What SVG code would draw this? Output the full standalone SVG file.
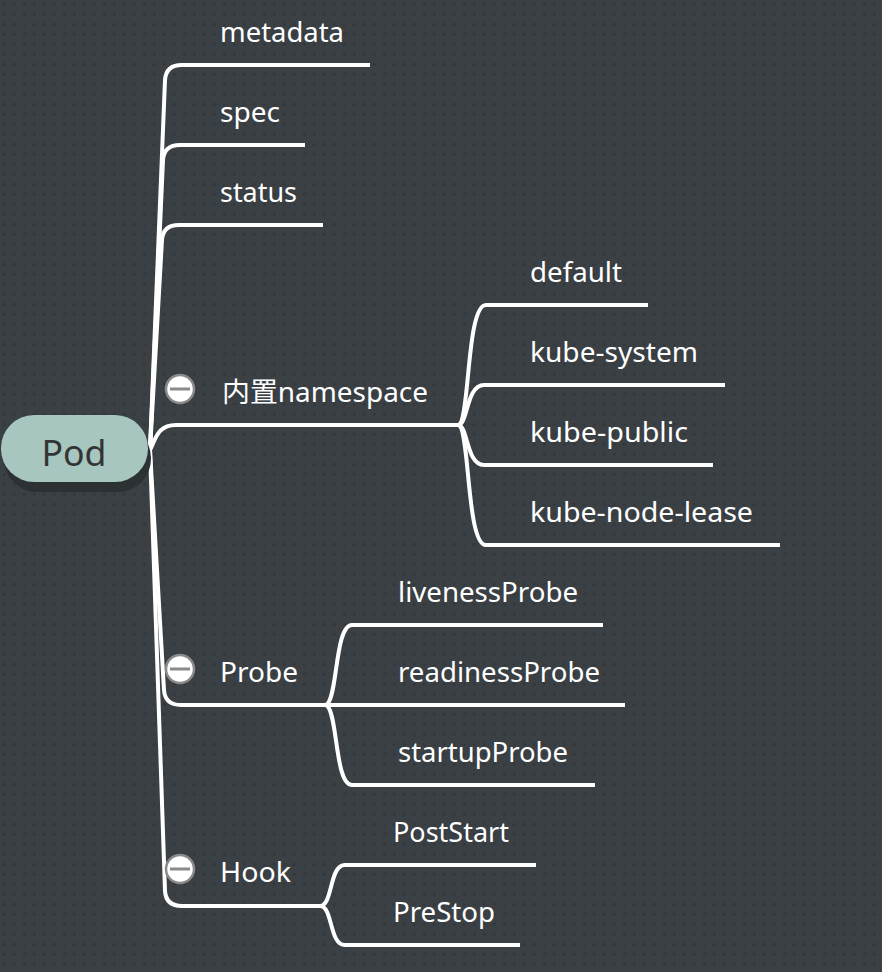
<svg xmlns="http://www.w3.org/2000/svg" width="882" height="972" viewBox="0 0 882 972">
<defs>
<pattern id="dots" x="3" y="3" width="10" height="10" patternUnits="userSpaceOnUse">
<rect x="0" y="0" width="2.5" height="2.5" fill="#30363a"/>
</pattern>
<style>
.bg{fill:#3a4044}
.ln{fill:none;stroke:#ffffff;stroke-width:4;stroke-linecap:butt;stroke-linejoin:round}
.t{font-family:"Noto Sans","Open Sans","Liberation Sans","Noto Sans CJK SC",sans-serif;font-size:27px;fill:#ffffff}
.cn{font-family:"Noto Sans CJK SC","Noto Sans",sans-serif}
.root{font-family:"Noto Sans","Open Sans","Liberation Sans",sans-serif;font-size:37px;fill:#343434}
.ic{fill:#ffffff;stroke:#8a8a8a;stroke-width:2.5}
.icl{stroke:#8a8a8a;stroke-width:3}
</style>
</defs>
<rect class="bg" x="0" y="0" width="882" height="972"/>
<rect x="0" y="0" width="882" height="972" fill="url(#dots)"/>

<g id="connectors">
<path class="ln" d="M150,450 L165,80 Q166,65 182,65 L370,65"/>
<path class="ln" d="M150,450 L163,160 Q164,145 180,145 L305,145"/>
<path class="ln" d="M150,450 L162,240 Q163,225 179,225 L323,225"/>
<path class="ln" d="M150,450 C156,438 158,425 176,425 L458,425"/>
<path class="ln" d="M150,450 L164,690 Q165,705 181,705 L325,705"/>
<path class="ln" d="M150,450 L165,891 Q166,906 182,906 L320,906"/>
<path class="ln" d="M458,425 C470,425 466,305 486,305 L648,305"/>
<path class="ln" d="M458,425 C468,425 466,385 484,385 L725,385"/>
<path class="ln" d="M458,425 C468,425 466,465 484,465 L713,465"/>
<path class="ln" d="M458,425 C470,425 466,545 486,545 L780,545"/>
<path class="ln" d="M325,705 C338,705 334,625 352,625 L603,625"/>
<path class="ln" d="M325,705 L625,705"/>
<path class="ln" d="M325,705 C338,705 334,785 352,785 L595,785"/>
<path class="ln" d="M320,906 C333,906 329,865 345,865 L536,865"/>
<path class="ln" d="M320,906 C333,906 329,945 345,945 L520,945"/>
</g>

<g id="node-pod">
<rect x="4" y="425" width="147" height="67" rx="33" fill="#2c3134"/>
<rect x="1" y="415" width="147" height="67" rx="33" fill="#a6c6bf"/>
<text class="root" x="74" y="466" text-anchor="middle" textLength="65" lengthAdjust="spacingAndGlyphs">Pod</text>
</g>

<g id="node-metadata"><text class="t" x="220" y="42" textLength="124" lengthAdjust="spacingAndGlyphs">metadata</text></g>
<g id="node-spec"><text class="t" x="220" y="122" textLength="60" lengthAdjust="spacingAndGlyphs">spec</text></g>
<g id="node-status"><text class="t" x="220" y="202" textLength="77" lengthAdjust="spacingAndGlyphs">status</text></g>

<g id="node-namespace">
<circle class="ic" cx="180" cy="389" r="14"/>
<line class="icl" x1="170" y1="389" x2="190" y2="389"/>
<text class="t" x="222" y="402" textLength="206" lengthAdjust="spacingAndGlyphs"><tspan class="cn">内置</tspan>namespace</text>
</g>
<g id="node-default"><text class="t" x="530" y="282" textLength="92" lengthAdjust="spacingAndGlyphs">default</text></g>
<g id="node-kube-system"><text class="t" x="530" y="362" textLength="168" lengthAdjust="spacingAndGlyphs">kube-system</text></g>
<g id="node-kube-public"><text class="t" x="530" y="442" textLength="158" lengthAdjust="spacingAndGlyphs">kube-public</text></g>
<g id="node-kube-node-lease"><text class="t" x="530" y="522" textLength="223" lengthAdjust="spacingAndGlyphs">kube-node-lease</text></g>

<g id="node-probe">
<circle class="ic" cx="180" cy="669" r="14"/>
<line class="icl" x1="170" y1="669" x2="190" y2="669"/>
<text class="t" x="220" y="682" textLength="78" lengthAdjust="spacingAndGlyphs">Probe</text>
</g>
<g id="node-livenessProbe"><text class="t" x="398" y="602" textLength="180" lengthAdjust="spacingAndGlyphs">livenessProbe</text></g>
<g id="node-readinessProbe"><text class="t" x="398" y="682" textLength="202" lengthAdjust="spacingAndGlyphs">readinessProbe</text></g>
<g id="node-startupProbe"><text class="t" x="398" y="762" textLength="170" lengthAdjust="spacingAndGlyphs">startupProbe</text></g>

<g id="node-hook">
<circle class="ic" cx="180" cy="869" r="14"/>
<line class="icl" x1="170" y1="869" x2="190" y2="869"/>
<text class="t" x="220" y="882" textLength="71" lengthAdjust="spacingAndGlyphs">Hook</text>
</g>
<g id="node-PostStart"><text class="t" x="393" y="842" textLength="116" lengthAdjust="spacingAndGlyphs">PostStart</text></g>
<g id="node-PreStop"><text class="t" x="393" y="922" textLength="102" lengthAdjust="spacingAndGlyphs">PreStop</text></g>
</svg>
